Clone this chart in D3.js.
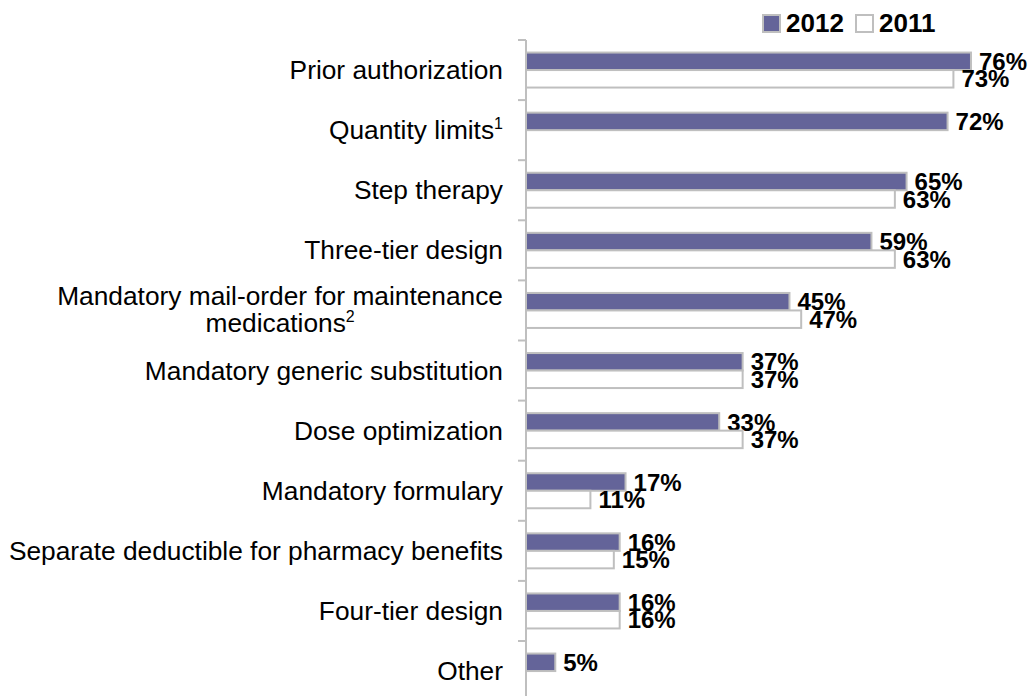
<!DOCTYPE html>
<html>
<head>
<meta charset="utf-8">
<script src="https://cdn.jsdelivr.net/npm/d3@7"></script>
<style>
  html, body { margin: 0; padding: 0; background: #fff; }
  svg { display: block; }
</style>
</head>
<body>
<svg id="chart" width="1029" height="696"></svg>
<script>
// Pharmacy benefit management tools, share of employers, 2012 vs 2011
const categories = [
  ["Prior authorization"],
  ["Quantity limits", "1"],
  ["Step therapy"],
  ["Three-tier design"],
  ["Mandatory mail-order for maintenance", "medications", "2"],
  ["Mandatory generic substitution"],
  ["Dose optimization"],
  ["Mandatory formulary"],
  ["Separate deductible for pharmacy benefits"],
  ["Four-tier design"],
  ["Other"]
];
const values2012 = [76, 72, 65, 59, 45, 37, 33, 17, 16, 16, 5];
const values2011 = [73, null, 63, 63, 47, 37, 37, 11, 15, 16, null];
const seriesNames = ["2012", "2011"];
const seriesColors = ["#646499", "#ffffff"];

const svg = d3.select("#chart");
const axisX = 526;
const plotTop = 40;
const bandStep = 60.1;
const font = "'Liberation Sans', Arial, sans-serif";

const y = d3.scaleBand()
  .domain(d3.range(categories.length))
  .range([plotTop, plotTop + bandStep * categories.length])
  .paddingInner(0).paddingOuter(0);

const x = d3.scaleLinear().domain([0, 100]).range([axisX, axisX + 585.5]);

const barH = 17.5;
const series = seriesNames.map((name, s) => ({
  name, color: seriesColors[s],
  values: s === 0 ? values2012 : values2011
}));

// bars
series.forEach((ser, s) => {
  const rows = ser.values.map((v, i) => ({ v, i })).filter(d => d.v != null);
  const g = svg.append("g");
  g.selectAll("rect").data(rows).join("rect")
    .attr("x", x(0))
    .attr("y", d => y(d.i) + y.bandwidth() / 2 - barH + s * barH)
    .attr("width", d => x(d.v) - x(0))
    .attr("height", barH)
    .attr("fill", ser.color)
    .attr("stroke", "#bfbfbf")
    .attr("stroke-width", 2);

  g.selectAll("text").data(rows).join("text")
    .attr("x", d => x(d.v) + 8)
    .attr("y", d => y(d.i) + y.bandwidth() / 2 - barH / 2 + s * barH)
    .attr("dy", "0.36em")
    .attr("font-family", font)
    .attr("font-weight", "bold")
    .attr("font-size", 24)
    .attr("fill", "#000")
    .text(d => d.v + "%");
});

// category axis line and ticks
const axisG = svg.append("g").attr("transform", `translate(${axisX},0)`);
axisG.append("line")
  .attr("x1", 0).attr("x2", 0)
  .attr("y1", plotTop).attr("y2", plotTop + bandStep * categories.length)
  .attr("stroke", "#bfbfbf").attr("stroke-width", 2);
axisG.selectAll("line.tick")
  .data(d3.range(categories.length + 1))
  .join("line").attr("class", "tick")
  .attr("x1", -8).attr("x2", 0)
  .attr("y1", i => plotTop + i * bandStep).attr("y2", i => plotTop + i * bandStep)
  .attr("stroke", "#bfbfbf").attr("stroke-width", 2);

// category labels
const labelRight = axisX - 23;
const labelSize = 26.3;
categories.forEach((c, i) => {
  const cy = y(i) + y.bandwidth() / 2;
  if (c.length === 3) {
    // two-line label, centred lines inside a right-aligned block
    const t1 = svg.append("text")
      .attr("font-family", font).attr("font-size", labelSize).attr("fill", "#000")
      .attr("text-anchor", "middle")
      .attr("y", cy - 5)
      .text(c[0]);
    const w = t1.node().getComputedTextLength();
    const cx = labelRight - w / 2;
    t1.attr("x", cx);
    const t2 = svg.append("text")
      .attr("font-family", font).attr("font-size", labelSize).attr("fill", "#000")
      .attr("text-anchor", "middle")
      .attr("x", cx).attr("y", cy + 22);
    t2.append("tspan").text(c[1]);
    t2.append("tspan").attr("font-size", 16).attr("dy", -10).text(c[2]);
  } else {
    const t = svg.append("text")
      .attr("font-family", font).attr("font-size", labelSize).attr("fill", "#000")
      .attr("text-anchor", "end")
      .attr("x", labelRight)
      .attr("y", cy + 9);
    t.append("tspan").text(c[0]);
    if (c[1]) t.append("tspan").attr("font-size", 16).attr("dy", -10).text(c[1]);
  }
});

// legend
const legendX = [763, 856];
series.forEach((ser, s) => {
  svg.append("rect")
    .attr("x", legendX[s]).attr("y", 15)
    .attr("width", 17).attr("height", 17)
    .attr("fill", ser.color)
    .attr("stroke", "#bfbfbf").attr("stroke-width", 2);
  svg.append("text")
    .attr("x", legendX[s] + 23).attr("y", 32)
    .attr("font-family", font).attr("font-weight", "bold").attr("font-size", 26)
    .attr("fill", "#000")
    .text(ser.name);
});
</script>
</body>
</html>
